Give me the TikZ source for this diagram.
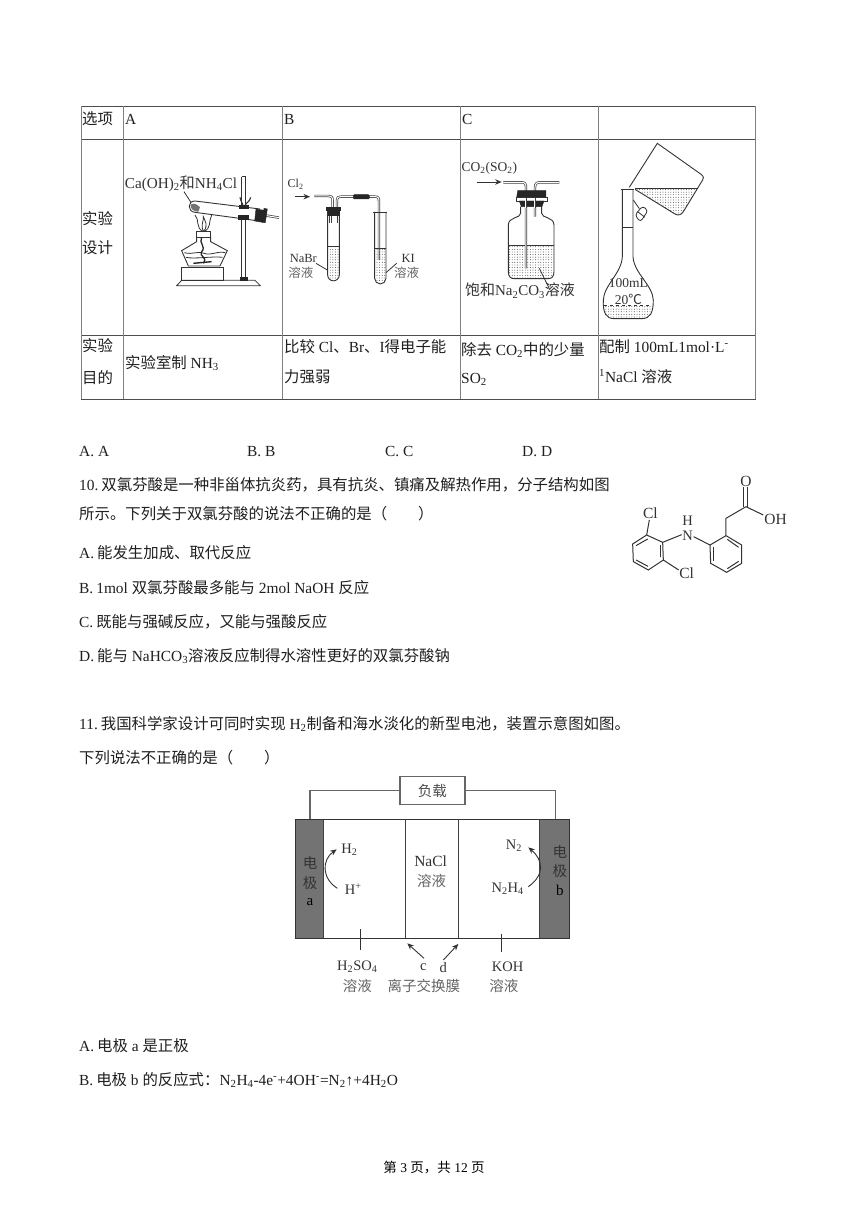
\documentclass[tikz,border=0pt]{standalone}
\usepackage{fontspec}
\setmainfont{Liberation Serif}
\newfontfamily\cjk{Noto Sans CJK SC}
\usetikzlibrary{arrows.meta,patterns.meta}
\newcommand\zh[1]{{\cjk #1}}
\newcommand\dn[1]{\textsubscript{#1}}
\newcommand\up[1]{\textsuperscript{#1}}
\newcount\nn
% body text: x, y(centre), text
\newcommand\tb[3]{\global\advance\nn by 1 \node[bodytxt] (t\the\nn) at (#1,#2+6) {#3};}
% centred label with given style
\newcommand\tc[4][13]{\global\advance\nn by 1 \node[lab,font=\fontsize{#1pt}{#1pt}\selectfont,#2] (t\the\nn) at #3 {#4};}
\newcommand\pipe[1]{\draw[pipeo] #1; \draw[pipei] #1;}
\tikzset{
 bodytxt/.style={anchor=base west,inner sep=0pt,text=black!88,font=\fontsize{15.4pt}{18pt}\selectfont},
 lab/.style={inner sep=0pt,text=black!80},
 grayt/.style={text=black!60},
 tbl/.style={draw=black!70,line width=0.8pt},
 tblv/.style={draw=black!50,line width=1pt},
 app/.style={draw=black!80,line width=0.8pt},
 pipeo/.style={draw=black!75,line width=2.4pt},
 pipei/.style={draw=white,line width=1pt},
 blk/.style={fill=black!85,draw=black!85},
 liq/.style={pattern={Dots[radius=0.45pt,distance=2.6pt]},pattern color=black!80},
 wire/.style={draw=black!60,line width=1.1pt},
 arr/.style={draw=black!80,line width=0.9pt,-{Stealth[length=6.5pt,width=5.5pt]}},
 bond/.style={draw=black!80,line width=1pt},
 zoomA/.style={shift={(80,100)},x=0.3333pt,y=-0.3333pt},
 zoomB/.style={shift={(450,100)},x=0.3333pt,y=-0.3333pt},
 zoomC/.style={shift={(620,470)},x=0.3333pt,y=-0.3333pt},
 zoomD/.style={shift={(280,770)},x=0.3333pt,y=-0.3333pt},
}
\begin{document}
\begin{tikzpicture}[x=1pt,y=-1pt]
\useasboundingbox (0,0) rectangle (868,1227);
\fill[white] (0,0) rectangle (868,1227);
% table
\foreach \y in {106,139,335,399} \draw[tbl] (81,\y) -- (755.5,\y);
\foreach \x in {81,123.5,282,460,598,755.5} \draw[tblv] (\x,106) -- (\x,399);
\tb{82}{118}{\zh{选项}}
\tb{125}{118}{A}
\tb{284}{118}{B}
\tb{462}{118}{C}
\tb{82}{218}{\zh{实验}}
\tb{82}{247}{\zh{设计}}
\tb{82}{345}{\zh{实验}}
\tb{82}{377}{\zh{目的}}
\tb{125}{362}{\zh{实验室制} NH\dn{3}}
\tb{284}{346}{\zh{比较} Cl\zh{、}Br\zh{、}I\zh{得电子能}}
\tb{284}{376}{\zh{力强弱}}
\tb{461}{349}{\zh{除去} CO\dn{2}\zh{中的少量}}
\tb{461}{377}{SO\dn{2}}
\tb{599}{346}{\zh{配制} 100mL1mol·L\up{-}}
\tb{599}{376}{\up{1}NaCl \zh{溶液}}
% options
\tb{79}{450}{A. A}
\tb{247}{450}{B. B}
\tb{385}{450}{C. C}
\tb{522}{450}{D. D}
% question 10
\tb{79}{484}{10.\hspace{3pt}\zh{双氯芬酸是一种非甾体抗炎药，具有抗炎、镇痛及解热作用，分子结构如图}}
\tb{79}{513}{\zh{所示。下列关于双氯芬酸的说法不正确的是（\hspace{2em}）}}
\tb{79}{552}{A.\hspace{3pt}\zh{能发生加成、取代反应}}
\tb{79}{587}{B.\hspace{3pt}1mol \zh{双氯芬酸最多能与} 2mol NaOH \zh{反应}}
\tb{79}{621}{C.\hspace{3pt}\zh{既能与强碱反应，又能与强酸反应}}
\tb{79}{655}{D.\hspace{3pt}\zh{能与} NaHCO\dn{3}\zh{溶液反应制得水溶性更好的双氯芬酸钠}}
% question 11
\tb{79}{723}{11.\hspace{3pt}\zh{我国科学家设计可同时实现} H\dn{2}\zh{制备和海水淡化的新型电池，装置示意图如图。}}
\tb{79}{757}{\zh{下列说法不正确的是（\hspace{2em}）}}
\tb{79}{1045}{A.\hspace{3pt}\zh{电极} a \zh{是正极}}
\tb{79}{1079}{B.\hspace{3pt}\zh{电极} b \zh{的反应式：}N\dn{2}H\dn{4}-4e\up{-}+4OH\up{-}=N\dn{2}↑+4H\dn{2}O}
\tc[13.5]{text=black}{(434,1168)}{\zh{第} 3 \zh{页，共} 12 \zh{页}}

% --- apparatus A and B
\begin{scope}[zoomA]
\tc[15.2]{}{(303,250)}{Ca(OH)\dn{2}\zh{和}NH\dn{4}Cl}
\draw[app] (312,275) -- (340,318);
% stand
\draw[app] (485,230) -- (485,535) (497,230) -- (497,535);
\draw[app] (485,230) -- (497,230);
\draw[app] (290,557) -- (305,541) -- (525,541) -- (541,557) -- cycle;
\draw[blk] (480,532) rectangle (503,540);
\draw[app,line width=1pt] (306,541) rectangle (430,502);
% lamp
\draw[app,line width=0.9pt] (350,410) -- (350,425) -- (305,452) -- (325,498) -- (420,498) -- (442,452) -- (392,425) -- (392,410);
\draw[app] (350,395) rectangle (392,412);
\draw[app] (313,458) .. controls (340,465) and (350,452) .. (372,460) .. controls (395,468) and (410,452) .. (436,458);
\draw[app] (318,472) .. controls (340,478) and (400,468) .. (428,472);
\draw[draw=black!85,line width=1.3pt] (365,412) .. controls (355,430) and (380,440) .. (365,455) .. controls (355,470) and (385,470) .. (370,490);
\draw[draw=black!85,line width=1.4pt] (340,490) -- (395,485);
% flame
\draw[app] (371,395) .. controls (345,385) and (360,360) .. (345,345);
\draw[app] (371,395) .. controls (395,385) and (385,365) .. (395,345);
\draw[app] (371,395) .. controls (360,375) and (372,365) .. (370,350) .. controls (376,365) and (385,375) .. (371,395);
% test tube
\fill[white] (540,327) -- (345,303) .. controls (322,303) and (322,335) .. (345,337) -- (530,362) -- cycle;
\draw[app,line width=0.9pt] (540,327) -- (345,303) .. controls (322,303) and (322,335) .. (345,337) -- (530,362);
\fill[black!55] (332,315) .. controls (335,308) and (350,310) .. (360,322) -- (355,335) .. controls (340,335) and (330,325) .. (332,315);
\pipe{(555,346) -- (597,353)}
\draw[blk] (528,327) -- (553,331) -- (548,367) -- (524,363) -- cycle;
\draw[blk] (552,325) -- (562,327) -- (556,368) -- (547,367) -- cycle;
% clamp
\draw[app,line width=1.1pt] (480,292) .. controls (482,305) and (488,308) .. (490,318);
\draw[app,line width=1.1pt] (512,292) .. controls (510,305) and (498,308) .. (494,318);
\draw[blk] (478,315) rectangle (506,326);
\draw[blk] (476,346) rectangle (506,359);
% B
\tc[12]{}{(647,252)}{Cl\dn{2}}
\draw[arr] (645,290) -- (690,290);
\pipe{(703,288) -- (745,288) .. controls (755,288) and (758,292) .. (758,302) -- (758,322)}
\pipe{(771,322) -- (771,302) .. controls (771,292) and (775,290) .. (785,290) -- (825,290)}
\pipe{(865,290) -- (885,290) .. controls (895,290) and (897,294) .. (897,304) -- (897,480)}
\draw[blk,rounded corners=1pt] (820,284) rectangle (868,297);
% tube 1
\fill[liq] (745,440) -- (778,440) -- (778,525) arc (0:180:16.5) -- cycle;
\draw[app,line width=0.9pt] (743,322) -- (743,525) arc (180:0:17.5) -- (778,322);
\draw[app] (745,440) -- (778,440);
\pipe{(751,345) -- (751,370)}
\pipe{(771,345) -- (771,370)}
\draw[blk] (740,322) rectangle (782,332);
\draw[blk] (744,332) rectangle (778,345);
% tube 2
\fill[liq] (884,445) -- (918,445) -- (918,535) arc (0:180:17) -- cycle;
\draw[app,line width=0.9pt] (884,336) -- (884,535) arc (180:0:17) -- (918,336);
\draw[app] (878,336) -- (922,336);
\draw[app] (884,445) -- (918,445);
\tc[12.5]{}{(670,475)}{NaBr}
\tc[12.5]{grayt}{(663,517)}{\zh{溶液}}
\draw[app] (708,490) -- (742,510);
\tc[12.5]{}{(985,475)}{KI}
\tc[12.5]{grayt}{(980,517)}{\zh{溶液}}
\draw[app] (950,490) -- (918,518);
\end{scope}

% --- apparatus C and D
\begin{scope}[zoomB]
\tc[13.5]{}{(118,204)}{CO\dn{2}(SO\dn{2})}
\draw[arr] (80,246) -- (155,246);
\fill[liq] (176,437) -- (311,437) -- (311,515) .. controls (311,530) and (305,535) .. (295,535) -- (192,535) .. controls (182,535) and (176,530) .. (176,515) -- cycle;
\draw[app,line width=0.9pt] (212,320) -- (212,340) .. controls (212,355) and (175,350) .. (175,375) -- (175,515) .. controls (175,530) and (182,536) .. (192,536) -- (295,536) .. controls (305,536) and (312,530) .. (312,515) -- (312,375) .. controls (312,350) and (275,355) .. (275,340) -- (275,320);
\draw[app] (175,437) -- (312,437);
\pipe{(160,247) -- (215,247) .. controls (225,247) and (228,252) .. (228,262) -- (228,505)}
\pipe{(328,247) -- (270,247) .. controls (260,247) and (255,252) .. (255,262) -- (255,350)}
\draw[blk] (203,272) -- (288,272) -- (288,293) -- (200,293) -- cycle;
\draw[app,fill=white] (198,293) rectangle (292,303);
\draw[blk] (208,303) -- (282,303) -- (276,320) -- (214,320) -- cycle;
\pipe{(228,295) -- (228,325)}
\pipe{(255,295) -- (255,325)}
\draw[app] (268,505) -- (300,570);
\tc[15]{}{(210,572)}{\zh{饱和}Na\dn{2}CO\dn{3}\zh{溶液}}
% flask
\fill[liq] (462,615) -- (605,615) .. controls (612,640) and (600,656) .. (575,656) -- (492,656) .. controls (468,656) and (456,640) .. (462,615) -- cycle;
\draw[app,line width=0.9pt] (517,268) -- (517,470) .. controls (515,520) and (462,555) .. (460,600) .. controls (458,640) and (470,656) .. (492,656) -- (575,656) .. controls (600,656) and (610,640) .. (610,600) .. controls (608,555) and (552,520) .. (549,470) -- (549,268);
\draw[app,line width=1.2pt] (512,268) -- (553,268);
\draw[app] (517,381) -- (549,381);
\draw[app,dashed] (462,615) -- (605,615);
\tc[13.5]{}{(535,550)}{100mL}
\tc[13.5]{}{(535,598)}{20\zh{℃}}
% beaker
\fill[liq] (556,266) -- (741,266) -- (700,335) .. controls (695,345) and (685,348) .. (675,342) -- cycle;
\draw[app,line width=0.9pt] (538,262) -- (622,130) -- (752,222) .. controls (762,230) and (762,235) .. (758,240) -- (702,332) .. controls (695,345) and (685,348) .. (675,342) -- (555,268);
\draw[app] (556,266) -- (741,266);
% stopper
\draw[app] (550,300) -- (568,326);
\draw[app,fill=white,rounded corners=3pt] (555,345) -- (578,318) -- (594,332) -- (571,366) -- cycle;
\draw[app] (563,335) -- (585,352);
\end{scope}

% --- structural formula
\begin{scope}[zoomC]
\coordinate (L1) at (80,195); \coordinate (L2) at (128,217); \coordinate (L3) at (130,270);
\coordinate (L4) at (85,300); \coordinate (L5) at (40,275); \coordinate (L6) at (38,222);
\coordinate (R1) at (270,225); \coordinate (R2) at (318,197); \coordinate (R3) at (365,225);
\coordinate (R4) at (365,280); \coordinate (R5) at (320,307); \coordinate (R6) at (272,280);
\coordinate (C1) at (318,145); \coordinate (C2) at (378,110);
\draw[bond] (L1) -- (L2) -- (L3) -- (L4) -- (L5) -- (L6) -- cycle;
\draw[bond] (R1) -- (R2) -- (R3) -- (R4) -- (R5) -- (R6) -- cycle;
\draw[bond] (83,207) -- (48,227);
\draw[bond] (48,270) -- (84,289);
\draw[bond] (120,262) -- (120,225);
\draw[bond] (280,273) -- (280,232);
\draw[bond] (356,232) -- (322,208);
\draw[bond] (356,274) -- (322,296);
\tc[15.5]{}{(91,130)}{Cl}
\tc[15.5]{}{(200,311)}{Cl}
\tc[14.5]{}{(203,197)}{N}
\tc[14.5]{}{(203,152)}{H}
\tc[15.5]{}{(378,35)}{O}
\tc[15.5]{}{(467,147)}{OH}
\draw[bond] (L1) -- (88,150);
\draw[bond] (L3) -- (176,300);
\draw[bond] (L2) -- (185,194);
\draw[bond] (221,200) -- (R1);
\draw[bond] (R2) -- (C1) -- (C2);
\draw[bond] (C2) -- (430,135);
\draw[bond] (372,110) -- (372,52);
\draw[bond] (384,110) -- (384,52);
\end{scope}

% --- battery
\begin{scope}[zoomD]
\fill[black!55] (45,147) rectangle (132,505);
\fill[black!55] (780,147) rectangle (870,505);
\draw[draw=black!80,line width=1pt] (45,147) rectangle (870,505);
\draw[draw=black!75,line width=1pt] (132,147) -- (132,505) (378,147) -- (378,505) (536,147) -- (536,505) (780,147) -- (780,505);
\node[draw=black!60,line width=1.1pt,minimum width=65pt,minimum height=28pt,inner sep=0pt,font=\fontsize{14.5pt}{14pt}\selectfont,text=black!70] (load) at (457.5,62.5) {\zh{负载}};
\coordinate (ea) at (90,147);
\coordinate (eb) at (826,147);
\draw[wire] (load.west) -- (90,62.5) -- (ea);
\draw[wire] (load.east) -- (826,62.5) -- (eb);
\tc[14.5]{text=black!80}{(90,280)}{\zh{电}}
\tc[14.5]{text=black!80}{(90,338)}{\zh{极}}
\tc[15]{text=black}{(90,395)}{a}
\tc[14.5]{text=black!80}{(840,245)}{\zh{电}}
\tc[14.5]{text=black!80}{(840,303)}{\zh{极}}
\tc[15]{text=black}{(840,360)}{b}
\tc[14.5]{}{(208,240)}{H\dn{2}}
\tc[14.5]{}{(220,358)}{H\up{+}}
\tc[15.5]{}{(452,275)}{NaCl}
\tc[14.5]{grayt}{(455,332)}{\zh{溶液}}
\tc[14.5]{}{(702,228)}{N\dn{2}}
\tc[14.5]{}{(683,355)}{N\dn{2}H\dn{4}}
\draw[arr] (172,355) .. controls (125,325) and (125,270) .. (170,238);
\draw[arr] (745,350) .. controls (795,315) and (790,270) .. (745,232);
\draw[app] (242,478) -- (242,540);
\draw[app] (665,492) -- (665,545);
\draw[arr] (432,565) -- (382,520);
\draw[arr] (490,570) -- (535,522);
\tc[14.5]{}{(232,590)}{H\dn{2}SO\dn{4}}
\tc[14.5]{grayt}{(232,648)}{\zh{溶液}}
\tc[14.5]{}{(430,592)}{c}
\tc[14.5]{}{(490,592)}{d}
\tc[14.5]{grayt}{(432,648)}{\zh{离子交换膜}}
\tc[14.5]{}{(683,590)}{KOH}
\tc[14.5]{grayt}{(672,648)}{\zh{溶液}}
\end{scope}
\end{tikzpicture}
\end{document}
